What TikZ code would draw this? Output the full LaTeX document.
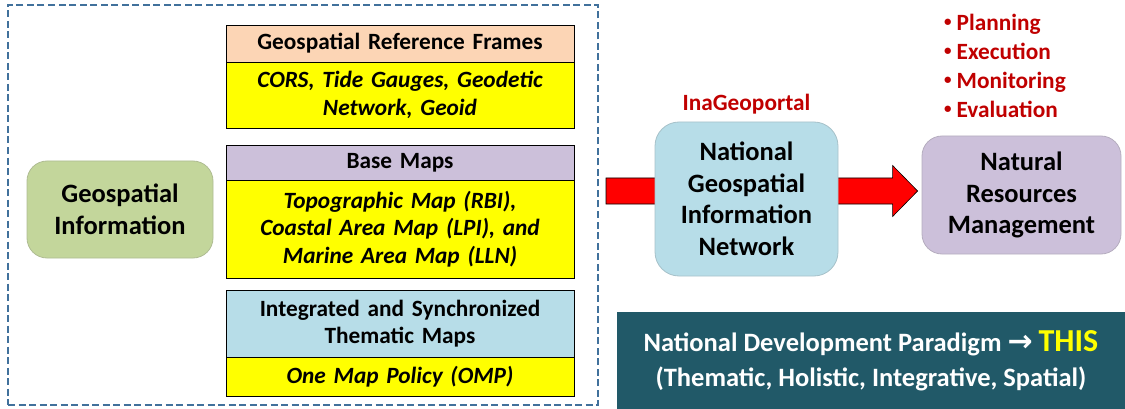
\documentclass[tikz,border=0pt]{standalone}
\usepackage{fontspec}
\setmainfont{Carlito}
\newfontfamily\arrowfont{DejaVu Sans}
\usetikzlibrary{positioning,backgrounds,calc}

\definecolor{peach}{HTML}{FCD5B5}
\definecolor{lavender}{HTML}{CCC0DA}
\definecolor{paleblue}{HTML}{B7DDE8}
\definecolor{sage}{HTML}{C3D69B}
\definecolor{mapyellow}{HTML}{FFFF00}
\definecolor{arrowred}{HTML}{FF0000}
\definecolor{labelred}{HTML}{C00000}
\definecolor{deepteal}{HTML}{215968}
\definecolor{framblue}{HTML}{41719C}
\definecolor{thisyellow}{HTML}{FFFF00}

\newcommand{\smallbullet}{\raisebox{0.18em}{\fontsize{15}{0}\selectfont\textbullet}\hspace{5pt}}

\begin{document}
\begin{tikzpicture}[x=1pt,y=-1pt,
    every node/.style={inner sep=0pt, align=center},
    stackbox/.style={draw=black, line width=0.8pt, minimum width=348pt, text width=344pt},
    headbox/.style={stackbox, font=\fontsize{23.3}{27.5}\selectfont\bfseries},
    itembox/.style={stackbox, fill=mapyellow, font=\fontsize{23.3}{27.5}\selectfont\bfseries\itshape},
    roundbox/.style={draw=#1!70!gray, fill=#1, line width=0.8pt, rounded corners=20pt,
        font=\fontsize{26.5}{31.5}\selectfont\bfseries},
    redtext/.style={text=labelred, font=\fontsize{23.3}{29}\selectfont\bfseries}]
    \useasboundingbox (0,0) rectangle (1125,409);

    % dashed frame round the map layers
    \node[draw=framblue, dash pattern=on 7pt off 3.5pt, line width=1.6pt,
        minimum width=590pt, minimum height=400pt] (frame) at (303,205) {};
    \node[roundbox=sage, minimum width=186pt, minimum height=97pt] (geoinfo) at (120,209.5)
        {Geospatial\\Information};

    % layers
    \node[headbox, fill=peach, minimum height=37pt] (refhead) at (400,43.5) {Geospatial Reference Frames};
    \node[itembox, minimum height=66pt] (refitem) at (400,95) {CORS, Tide Gauges, Geodetic\\Network, Geoid};
    \node[headbox, fill=lavender, minimum height=35pt] (basehead) at (400,162.5) {Base Maps};
    \node[itembox, minimum height=98pt] (baseitem) at (400,229)
        {Topographic Map (RBI),\\Coastal Area Map (LPI), and\\Marine Area Map (LLN)};
    \node[headbox, fill=paleblue, minimum height=67pt] (themhead) at (400,323.5)
        {Integrated and Synchronized\\Thematic Maps};
    \node[itembox, minimum height=39pt] (themitem) at (400,376.5) {One Map Policy (OMP)};

    % network and management
    \node[roundbox=paleblue, rounded corners=24pt, minimum width=183pt, minimum height=154pt] (ngin) at (746.5,199)
        {National\\Geospatial\\Information\\Network};
    \node[redtext, above=7pt of ngin] (portal) {InaGeoportal};
    \node[roundbox=lavender, minimum width=199pt, minimum height=118pt] (nrm) at (1021.5,195)
        {Natural\\Resources\\Management};
    \node[redtext, align=left, anchor=west] (stages) at (944,66)
        {\smallbullet Planning\\\smallbullet Execution\\\smallbullet Monitoring\\\smallbullet Evaluation};

    % big arrow behind the network box
    \coordinate (arrtail) at (606,191);
    \coordinate (arrtip) at ([xshift=-4pt]nrm.west |- arrtail);
    \begin{scope}[on background layer]
    \draw[fill=arrowred, draw=black, line width=0.6pt] ($(arrtail)+(0,-13)$) -- ($(arrtip)+(-25,-13)$)
        -- ($(arrtip)+(-25,-25.5)$) -- (arrtip) -- ($(arrtip)+(-25,25.5)$) -- ($(arrtip)+(-25,13)$)
        -- ($(arrtail)+(0,13)$) -- cycle;
    \end{scope}

    \node[fill=deepteal, text=white, minimum width=508pt, minimum height=97pt,
        font=\fontsize{26.5}{35}\selectfont\bfseries] (paradigm) at (871,360.5)
        {National Development Paradigm\ {\arrowfont\bfseries\fontsize{30}{0}\selectfont →}\ {\color{thisyellow}\fontsize{32}{35}\selectfont THIS}\\
         (Thematic, Holistic, Integrative, Spatial)};
\end{tikzpicture}
\end{document}
